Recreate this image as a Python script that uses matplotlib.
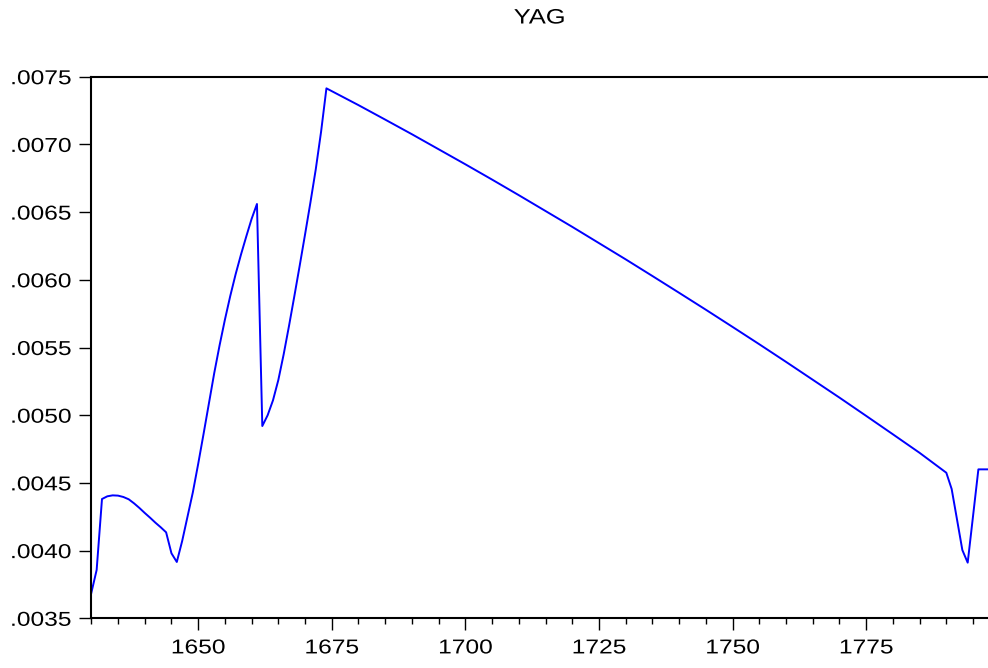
import matplotlib
matplotlib.use("Agg")
import matplotlib.pyplot as plt
from matplotlib.ticker import FuncFormatter, MultipleLocator
from matplotlib.patheffects import AbstractPathEffect
from matplotlib.transforms import Affine2D

plt.rcParams['font.family'] = ['Liberation Sans', 'DejaVu Sans']

# Early period: annual observations 1630-1674
years_early = list(range(1630, 1675))
yag_early = [
    0.003687, 0.003857, 0.004381, 0.004401, 0.004408, 0.004406, 0.004396,
    0.004379, 0.004349, 0.004315, 0.004278, 0.004243, 0.004206, 0.004172,
    0.004135, 0.003980, 0.003916, 0.004070, 0.004250, 0.004430, 0.004640,
    0.004860, 0.005085, 0.005310, 0.005515, 0.005705, 0.005880, 0.006040,
    0.006185, 0.006320, 0.006450, 0.006560, 0.004920, 0.005000, 0.005110,
    0.005260, 0.005450, 0.005660, 0.005880, 0.006105, 0.006335, 0.006570,
    0.006815, 0.007094, 0.007414,
]

# Long decline 1674-1790
years_mid = [1680, 1685, 1690, 1695, 1700, 1705, 1710, 1715, 1720, 1725,
             1730, 1735, 1740, 1745, 1750, 1755, 1760, 1765, 1770, 1775,
             1780, 1785, 1790]
yag_mid = [0.007290, 0.007183, 0.007075, 0.006964, 0.006853, 0.006740,
           0.006625, 0.006508, 0.006391, 0.006271, 0.006151, 0.006028,
           0.005904, 0.005779, 0.005652, 0.005524, 0.005394, 0.005262,
           0.005130, 0.004995, 0.004859, 0.004722, 0.004575]

# Late period
years_late = [1791, 1792, 1793, 1794, 1795, 1796, 1797, 1798]
yag_late = [0.004455, 0.004230, 0.004004, 0.003911, 0.004255, 0.004600,
            0.004600, 0.004600]

years = years_early + years_mid + years_late
yag = yag_early + yag_mid + yag_late


class WideGlyphs(AbstractPathEffect):
    """Widen text horizontally about its centre or right edge."""

    def __init__(self, sx=1.22, anchor='center'):
        super().__init__()
        self.sx = sx
        self.anchor = anchor

    def draw_path(self, renderer, gc, tpath, affine, rgbFace=None):
        ext = tpath.get_extents()
        if self.anchor == 'right':
            cx = ext.x1
        else:
            cx = 0.5 * (ext.x0 + ext.x1)
        t = Affine2D().translate(-cx, 0).scale(self.sx, 1).translate(cx, 0) + affine
        renderer.draw_path(gc, tpath, t, rgbFace)


fig = plt.figure(figsize=(9.88, 6.68), dpi=100)
ax = fig.add_axes([91.3 / 988, 1 - 618.3 / 668, 1 - 91.3 / 988, (618.3 - 76.7) / 668])

ax.plot(years, yag, color='#0000FF', linewidth=1.4)

ax.set_xlim(1630, 1797.8)
ax.set_ylim(0.0035, 0.0075)

ax.xaxis.set_major_locator(MultipleLocator(25))
ax.xaxis.set_minor_locator(MultipleLocator(5))
ax.yaxis.set_major_locator(MultipleLocator(0.0005))
ax.yaxis.set_major_formatter(FuncFormatter(lambda v, p: f"{v:.4f}".lstrip('0')))

for side in ('left', 'bottom', 'top'):
    ax.spines[side].set_linewidth(1.5)
    ax.spines[side].set_color('black')
ax.spines['right'].set_visible(False)

ax.tick_params(axis='both', which='major', direction='out', length=8.5,
               width=1.0, labelsize=14.5, colors='black')
ax.tick_params(axis='x', which='minor', direction='out', length=4.3, width=1.0)
ax.tick_params(axis='x', which='major', pad=6)
ax.tick_params(axis='y', which='major', pad=6)
ax.tick_params(top=False, right=False, which='both')

for lab in ax.get_xticklabels():
    lab.set_path_effects([WideGlyphs(1.22, 'center')])
for lab in ax.get_yticklabels():
    lab.set_path_effects([WideGlyphs(1.22, 'right')])

title = fig.text(539.5 / 988, 1 - 18 / 668, 'YAG', ha='center', va='center',
                 fontsize=15)
title.set_path_effects([WideGlyphs(1.22, 'center')])

fig.savefig('out.png', dpi=100)
